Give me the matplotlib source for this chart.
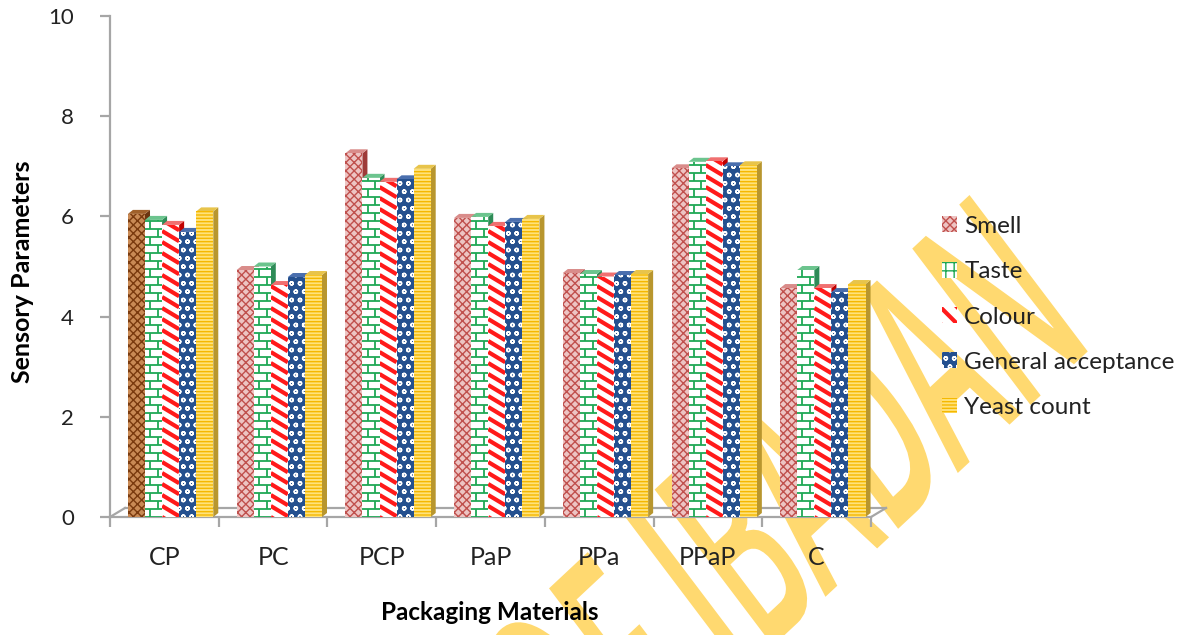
import matplotlib
matplotlib.use("Agg")
import matplotlib.pyplot as plt
from matplotlib.patches import Rectangle, Polygon, Patch, PathPatch
from matplotlib.collections import LineCollection
from matplotlib.textpath import TextPath
from matplotlib.font_manager import FontProperties
from matplotlib.transforms import Affine2D, IdentityTransform
import numpy as np

plt.rcParams['font.family'] = ['Lato', 'DejaVu Sans']

# ---- data ----
materials = ["CP", "PC", "PCP", "PaP", "PPa", "PPaP", "C"]
parameters = ["Smell", "Taste", "Colour", "General acceptance", "Yeast count"]
smell = [6.05, 4.93, 7.26, 5.97, 4.87, 6.96, 4.57]
taste = [5.93, 5.00, 6.77, 5.99, 4.85, 7.09, 4.93]
colour = [5.83, 4.63, 6.69, 5.81, 4.80, 7.10, 4.57]
general_acceptance = [5.69, 4.79, 6.74, 5.89, 4.83, 7.00, 4.49]
yeast_count = [6.10, 4.83, 6.95, 5.95, 4.85, 7.02, 4.65]
series = [smell, taste, colour, general_acceptance, yeast_count]
y_ticks = [0, 2, 4, 6, 8, 10]

# fill styles: (face, pattern colour, hatch, side shade, top shade)
styles = [
    ("#EDC4C3", "#C0504D", "xxxx", "#9E3B39", "#D98C8A"),
    ("#FFFFFF", "#1FA855", None, "#2E8B57", "#6CC48E"),
    ("#FFFFFF", "#FF1A1A", None, "#C00000", "#F07070"),
    ("#24508F", "#FFFFFF", "oo", "#1F3B66", "#4A6FAE"),
    ("#FFE27A", "#F5B800", "-----", "#B8962E", "#E8C44A"),
]
first_smell_style = ("#C98A55", "#7A3A0E", "xxxx", "#6B3510", "#A0602A")

W, H = 1198, 635
fig = plt.figure(figsize=(W / 100, H / 100), dpi=100)
x0, x1, y0, y1 = 110, 871, 517, 16
ax = fig.add_axes([x0 / W, (H - y0) / H, (x1 - x0) / W, (y0 - y1) / H])
ax.set_xlim(0, len(materials))
ax.set_ylim(0, 10)
ax.patch.set_alpha(0)

px_x = len(materials) / (x1 - x0)   # data units per pixel (x)
px_y = 10 / (y0 - y1)               # data units per pixel (y)
ddx, ddy = 5 * px_x, 4 * px_y       # bar depth offset

bar_w = 0.157
group_off = 0.165


def brick_lines(xl, xr, v):
    segs = []
    row = 8 * px_y
    n = int(v / row) + 1
    for k in range(n + 1):
        yb = k * row
        segs.append([(xl, yb), (xr, yb)])
        xv = xl + (xr - xl) * (0.3 if k % 2 == 0 else 0.75)
        segs.append([(xv, yb), (xv, yb + row)])
    return segs


def stripe_lines(xl, xr, v):
    segs = []
    step = 11 * px_y
    drop = 0.6 * (xr - xl) / px_x * px_y
    c = -drop
    while c < v + drop:
        segs.append([(xl, c + drop), (xr, c)])
        c += step
    return segs


z = 3
for i, mat in enumerate(materials):
    for j, vals in enumerate(series):
        st = first_smell_style if (i == 0 and j == 0) else styles[j]
        face, pcol, hatch, side, top = st
        v = vals[i]
        xl = i + group_off + j * bar_w
        xr = xl + bar_w
        # side face
        ax.add_patch(Polygon([(xr, 0), (xr + ddx, ddy), (xr + ddx, v + ddy), (xr, v)],
                             closed=True, facecolor=side, edgecolor='none', zorder=z))
        # top face
        ax.add_patch(Polygon([(xl, v), (xl + ddx, v + ddy), (xr + ddx, v + ddy), (xr, v)],
                             closed=True, facecolor=top, edgecolor='none', zorder=z))
        # front face
        r = Rectangle((xl, 0), bar_w, v, facecolor=face, edgecolor=pcol,
                      hatch=hatch, linewidth=0, zorder=z + 1)
        ax.add_patch(r)
        if j == 1:
            lc = LineCollection(brick_lines(xl, xr, v), colors=pcol, linewidths=1.3, zorder=z + 1.5)
            ax.add_collection(lc)
            lc.set_clip_path(r)
        elif j == 2:
            lc = LineCollection(stripe_lines(xl, xr, v), colors=pcol, linewidths=3.0, zorder=z + 1.5)
            ax.add_collection(lc)
            lc.set_clip_path(r)
        z += 2

# floor outline
fdx, fdy = 15 * px_x, 9 * px_y
gray = "#A6A6A6"
n = len(materials)
for xs, ys in [([0, n], [0, 0]), ([fdx, n + fdx], [fdy, fdy]),
               ([0, fdx], [0, fdy]), ([n, n + fdx], [0, fdy])]:
    ax.plot(xs, ys, color=gray, lw=1.6, zorder=1, clip_on=False)

# axes styling
for s in ["top", "right", "bottom"]:
    ax.spines[s].set_visible(False)
ax.spines["left"].set_color(gray)
ax.spines["left"].set_linewidth(1.6)
ax.set_yticks(y_ticks)
ax.set_yticklabels([str(t) for t in y_ticks], fontsize=16, color="#222222")
ax.tick_params(axis='y', length=7, width=1.6, color=gray, pad=19)
ax.set_xticks(range(n + 1))
ax.set_xticklabels([])
ax.tick_params(axis='x', length=7, width=1.6, color=gray, direction='out')
for i, mat in enumerate(materials):
    ax.text(i + 0.5, -0.8, mat, ha='center', va='center', fontsize=18, color="#222222")

fig.text(23 / W, 1 - 272 / H, "Sensory Parameters", rotation=90, ha='center', va='center',
         fontsize=18, fontweight='bold')
fig.text(490 / W, 1 - 613 / H, "Packaging Materials", ha='center', va='center',
         fontsize=17.5, fontweight='bold')

# legend
handles = []
for j, name in enumerate(parameters):
    face, pcol, hatch, side, top = styles[j]
    if j == 1:
        hatch = "++"
    if j == 2:
        hatch = "\\\\"
    handles.append(Patch(facecolor=face, edgecolor=pcol, hatch=hatch, linewidth=0, label=name))
leg = fig.legend(handles=handles, loc='center left', bbox_to_anchor=(920 / W, 1 - 317 / H),
                 frameon=False, fontsize=17.5, labelspacing=1.0, handlelength=0.62,
                 handleheight=0.62, handletextpad=0.3)
for t in leg.get_texts():
    t.set_color("#222222")
lh = getattr(leg, "legend_handles", None) or getattr(leg, "legendHandles", [])
if len(lh) > 2 and hasattr(lh[2], "set_hatch_linewidth"):
    lh[2].set_hatch_linewidth(3.0)

# institutional watermark drawn as an outlined text path
fp = FontProperties(family="Open Sans", weight="semibold")
full = "OF IBADAN"
p_full = TextPath((0, 0), full, size=1, prop=fp)
p_upto_i = TextPath((0, 0), "OF I", size=1, prop=fp)
w_i = TextPath((0, 0), "I", size=1, prop=fp).get_extents()
w_n = TextPath((0, 0), "N", size=1, prop=fp).get_extents()
cap = w_i.height
i_cx = p_upto_i.get_extents().x1 - w_i.width / 2
n_cx = p_full.get_extents().x1 - w_n.width / 2
i_pos = np.array([690.0, H - 590.0])
n_pos = np.array([1000.0, H - 300.0])
d = n_pos - i_pos
ang = np.degrees(np.arctan2(d[1], d[0]))
sx = np.hypot(*d) / (n_cx - i_cx)
sy = 195 / cap
tr = (Affine2D().translate(-i_cx, -cap / 2).scale(sx, sy).skew_deg(6, 0)
      .rotate_deg(ang).translate(*i_pos))
wm = PathPatch(tr.transform_path(p_full), transform=IdentityTransform(),
               facecolor="#FFD970", edgecolor="none", zorder=-1)
fig.patches.append(wm)
wm.set_figure(fig)

fig.savefig("out.png", dpi=100)
